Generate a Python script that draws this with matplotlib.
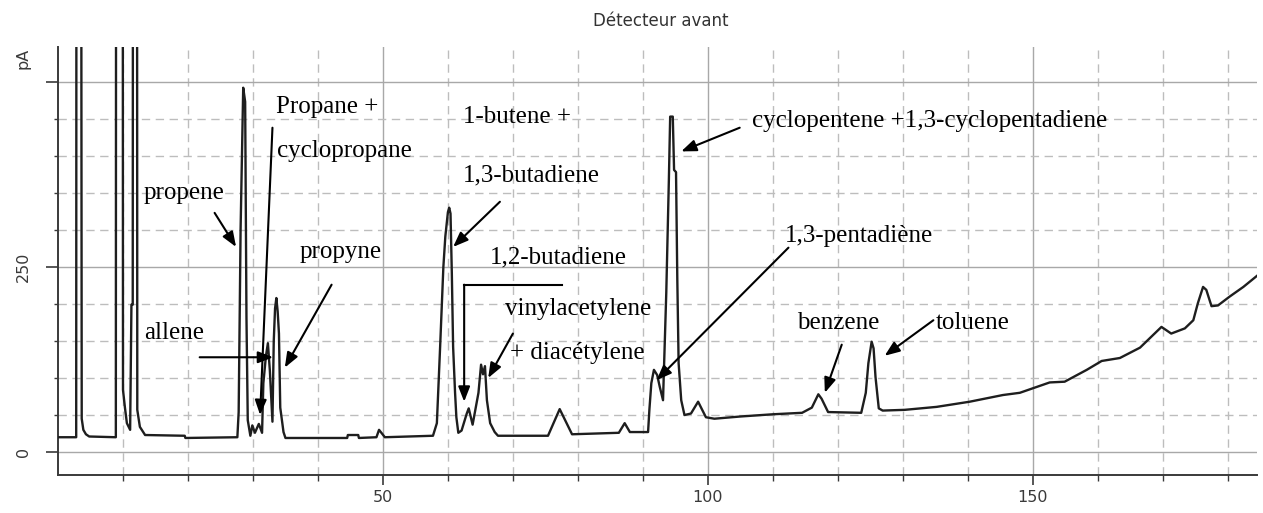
import matplotlib
matplotlib.use("Agg")
import matplotlib.pyplot as plt

# Chromatogram trace: retention time and detector signal (pA)
# off-scale solvent peaks are given a large value so they get clipped at the top
time = [0.0, 2.8, 2.9, 3.5, 3.6, 3.65, 3.9, 4.3, 4.8, 8.9,
        9.0, 9.9, 10.0, 10.3, 10.6, 11.1, 11.3, 11.5, 11.6, 12.1,
        12.2, 12.6, 13.4, 19.5, 19.6, 27.6, 27.8, 28.1, 28.5, 28.8,
        29.0, 29.2, 29.6, 29.9, 30.3, 30.9, 31.4, 31.6, 32.0, 32.3,
        32.6, 33.0, 33.2, 33.4, 33.6, 33.8, 34.0, 34.2, 34.7, 35.0,
        44.5, 44.6, 46.2, 46.3, 49.0, 49.4, 50.3, 57.7, 58.3, 58.8,
        59.3, 59.6, 60.0, 60.2, 60.4, 60.6, 60.8, 61.1, 61.3, 61.6,
        62.1, 62.9, 63.2, 63.8, 64.7, 65.1, 65.4, 65.7, 66.0, 66.5,
        67.2, 67.7, 75.4, 77.2, 79.1, 86.3, 87.2, 88.0, 90.8, 91.0,
        91.3, 91.7, 92.2, 92.6, 93.1, 93.6, 94.0, 94.2, 94.6, 94.8,
        95.1, 95.3, 95.5, 95.9, 96.4, 97.4, 98.5, 99.7, 101.0, 105.0,
        110.0, 114.5, 116.0, 117.0, 117.5, 118.5, 123.6, 124.3, 124.7, 125.2,
        125.5, 125.8, 126.3, 126.9, 130.3, 135.2, 140.3, 145.4, 148.0, 152.6,
        154.9, 158.3, 160.6, 163.4, 166.5, 168.5, 169.8, 171.3, 173.4, 174.7,
        175.4, 176.2, 176.7, 177.5, 178.5, 180.3, 182.4, 184.5]
signal = [20, 20, 2000, 2000, 510, 45, 30, 24, 21, 20,
          2000, 2000, 84, 60, 39, 30, 199, 199, 2000, 2000,
          57, 34, 23, 22, 19, 20, 54, 302, 492, 473,
          182, 43, 22, 36, 26, 38, 26, 93, 130, 147,
          110, 41, 150, 194, 208, 190, 160, 60, 27, 19,
          19, 23, 23, 19, 20, 30, 20, 22, 39, 142,
          250, 291, 324, 330, 322, 242, 142, 80, 47, 26,
          29, 52, 59, 37, 80, 118, 105, 116, 70, 39,
          27, 22, 22, 58, 24, 26, 39, 27, 27, 57,
          93, 111, 104, 88, 70, 215, 368, 453, 453, 381,
          378, 232, 120, 70, 50, 52, 68, 47, 45, 48,
          51, 53, 60, 78, 72, 54, 53, 80, 120, 149,
          140, 101, 59, 56, 57, 61, 68, 77, 80, 94,
          95, 111, 123, 127, 141, 158, 169, 160, 167, 178,
          201, 223, 219, 197, 198, 210, 223, 238]

# peak labels: text, text position (left, baseline), arrow tail, arrow tip
labels = ["propene", "Propane +", "cyclopropane", "propyne", "allene",
          "1-butene +", "1,3-butadiene", "1,2-butadiene", "vinylacetylene",
          "+ diacétylene", "cyclopentene +1,3-cyclopentadiene",
          "1,3-pentadiène", "benzene", "toluene"]
label_x = [13.1, 33.5, 33.7, 37.2, 13.3, 62.3, 62.3, 66.5, 68.8, 69.5,
           106.8, 111.8, 113.7, 135.1]
label_y = [342, 458, 399, 262, 152, 444, 365, 255, 185, 126, 439, 284, 166, 166]

arrow_from = [(24.1, 323), (33.0, 438), (42.1, 226), (21.8, 128), (68.0, 338),
              (62.5, 226), (70.0, 160), (104.9, 438), (112.4, 276),
              (120.6, 145), (134.7, 178)]
arrow_to = [(27.4, 277), (31.1, 50), (34.9, 114), (33.1, 128), (60.8, 277),
            (62.5, 68), (66.2, 100), (95.9, 406), (92.1, 97),
            (118.0, 80), (127.2, 130)]

fig = plt.figure(figsize=(12.63, 5.13), dpi=100)
ax = fig.add_axes([58 / 1263, 38 / 513, 1199 / 1263, 428 / 513])

ax.plot(time, signal, color="#1e1e1e", lw=1.7, zorder=3)

ax.set_xlim(0, 184.5)
ax.set_ylim(-31, 547)

ax.set_xticks([50, 100, 150])
ax.set_xticks(range(10, 185, 10), minor=True)
ax.set_yticks([0, 250, 500])
ax.set_yticks(range(50, 550, 50), minor=True)
ax.set_yticklabels(["0", "250", ""])

ax.grid(which="major", color="#a8a8a8", lw=1.0, ls="-")
ax.grid(which="minor", color="#bdbdbd", lw=1.0, ls=(0, (6, 4)))
ax.set_axisbelow(True)

for side in ["top", "right"]:
    ax.spines[side].set_visible(False)
for side in ["left", "bottom"]:
    ax.spines[side].set_color("#3a3a3a")
    ax.spines[side].set_linewidth(1.4)

ax.tick_params(axis="both", which="both", color="#3a3a3a",
               labelsize=11.5, labelcolor="#3a3a3a")
ax.tick_params(axis="x", which="major", length=7, width=1.2, pad=4)
ax.tick_params(axis="x", which="minor", length=4, width=1.0)
ax.tick_params(axis="y", which="major", length=8.5, width=1.2, pad=11,
               labelrotation=90)
ax.tick_params(axis="y", which="minor", length=3, width=1.0)
for lbl in ax.get_yticklabels():
    lbl.set_va("center")

# annotation labels and arrows
for txt, x, y in zip(labels, label_x, label_y):
    ax.text(x, y, txt, family="Liberation Serif", fontsize=18, color="black",
            ha="left", va="baseline", zorder=5)

# 1,2-butadiene bracket
ax.plot([77.5, 62.5], [226, 226], color="black", lw=1.5, zorder=4)

for (x0, y0), (x1, y1) in zip(arrow_from, arrow_to):
    ax.annotate("", xy=(x1, y1), xytext=(x0, y0),
                arrowprops=dict(arrowstyle="-|>,head_length=0.9,head_width=0.35",
                                color="black", lw=1.5, shrinkA=0, shrinkB=0),
                zorder=4)

fig.text(661 / 1263, 1 - 21 / 513, "Détecteur avant", ha="center", va="center",
         fontsize=12, color="#333333")
fig.text(23 / 1263, 1 - 58 / 513, "pA", ha="center", va="center", rotation=90,
         fontsize=11.5, color="#3a3a3a")

fig.savefig("out.png", dpi=100)
